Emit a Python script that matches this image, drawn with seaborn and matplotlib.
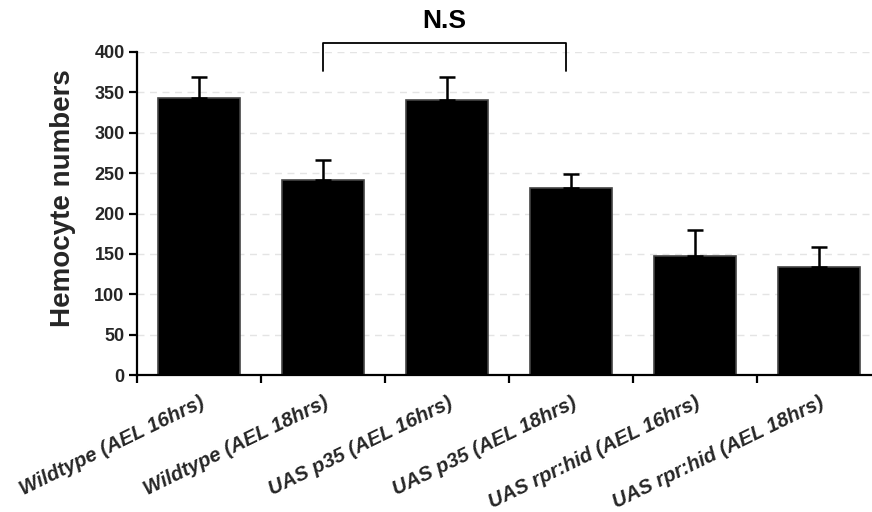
import matplotlib
matplotlib.use("Agg")
import matplotlib.pyplot as plt
import matplotlib.transforms as mtransforms
import seaborn as sns
import pandas as pd
import numpy as np

categories = ["Wildtype (AEL 16hrs)", "Wildtype (AEL 18hrs)", "UAS p35 (AEL 16hrs)",
              "UAS p35 (AEL 18hrs)", "UAS rpr:hid (AEL 16hrs)", "UAS rpr:hid (AEL 18hrs)"]
values = [343, 241, 340, 232, 147, 134]
errors = [26, 25, 29, 17, 32, 24]
y_ticks = [0, 50, 100, 150, 200, 250, 300, 350, 400]
bracket_pair = (1, 3)
bracket_label = "N.S"

sns.set_theme(style="white")
plt.rcParams['font.family'] = ['Liberation Sans', 'DejaVu Sans']

fig = plt.figure(figsize=(8.72, 5.12), dpi=100)
ax = fig.add_axes([137/872, 1-375/512, (881-137)/872, (375-52)/512])

df = pd.DataFrame({"cat": categories, "val": values})
sns.barplot(data=df, x="cat", y="val", color="black", width=0.66,
            edgecolor="#444444", linewidth=1.2, ax=ax, errorbar=None, saturation=1)
ax.errorbar(np.arange(len(values)), values, yerr=[np.zeros(len(errors)), errors],
            fmt="none", ecolor="black", elinewidth=1.8, capsize=6, capthick=1.8, zorder=3)

ax.set_xlim(-0.5, len(categories) - 0.5)
ax.set_ylim(0, 400)
ax.set_yticks(y_ticks)
ax.set_yticklabels([str(t) for t in y_ticks], fontsize=13, fontweight="bold")
for t in y_ticks[1:]:
    ax.axhline(t, color="#e4e4e4", lw=1, ls=(0, (5, 4)), zorder=0)

# ticks at category boundaries, labels at centres
ax.set_xticks(np.arange(len(categories)))
ax.set_xticklabels(categories, rotation=26, ha="right", rotation_mode="anchor",
                   fontsize=14.6, fontweight="bold", fontstyle="italic", va="top")
offset = mtransforms.ScaledTranslation(6/100, 0, fig.dpi_scale_trans)
for lbl in ax.get_xticklabels():
    lbl.set_transform(lbl.get_transform() + offset)
ax.set_xticks(np.arange(len(categories) + 1) - 0.5, minor=True)
ax.tick_params(axis="x", which="major", bottom=False, length=0, pad=13)
ax.tick_params(axis="x", which="minor", bottom=True, length=6, width=1.6,
               color="black", direction="out")
ax.tick_params(axis="y", which="major", left=True, length=6, width=1.6,
               color="black", direction="out", pad=3)

ax.set_xlabel("")
ax.set_ylabel("Hemocyte numbers", fontsize=20, fontweight="bold")
ax.yaxis.set_label_coords((76 - 137) / 744, (375 - 198) / 323)

for s in ["top", "right"]:
    ax.spines[s].set_visible(False)
for s in ["left", "bottom"]:
    ax.spines[s].set_color("black")
    ax.spines[s].set_linewidth(1.6)

# significance bracket
x1, x2 = bracket_pair
ax.plot([x1, x1, x2 - 0.04, x2 - 0.04], [377, 411, 411, 377], color="black", lw=1.3,
        clip_on=False)
ax.text((x1 + x2 - 0.04) / 2, 423, bracket_label, ha="center", va="bottom",
        fontsize=19, fontweight="bold", color="black", clip_on=False)

fig.savefig("out.png", dpi=100)
